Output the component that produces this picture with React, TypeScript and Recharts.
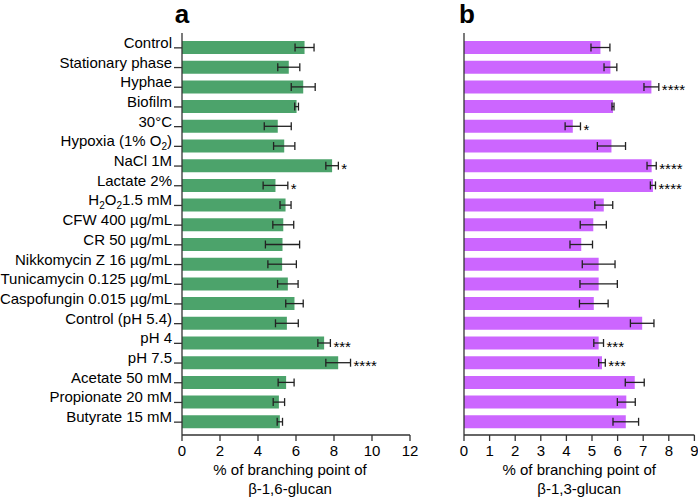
import React from 'react';
import { BarChart, Bar, XAxis, YAxis, ErrorBar, LabelList } from 'recharts';

const categories = [
  'Control', 'Stationary phase', 'Hyphae', 'Biofilm', '30°C', 'Hypoxia (1% O₂)', 'NaCl 1M',
  'Lactate 2%', 'H₂O₂1.5 mM', 'CFW 400 µg/mL', 'CR 50 µg/mL', 'Nikkomycin Z 16 µg/mL',
  'Tunicamycin 0.125 µg/mL', 'Caspofungin 0.015 µg/mL', 'Control (pH 5.4)', 'pH 4', 'pH 7.5',
  'Acetate 50 mM', 'Propionate 20 mM', 'Butyrate 15 mM',
];

const beta16 = [6.45, 5.62, 6.38, 6.03, 5.04, 5.38, 7.9, 4.92, 5.45, 5.33, 5.29, 5.27, 5.57, 5.92, 5.52, 7.48, 8.22, 5.48, 5.1, 5.15];
const beta16Err = [0.5, 0.58, 0.63, 0.1, 0.71, 0.56, 0.33, 0.65, 0.29, 0.55, 0.9, 0.75, 0.54, 0.46, 0.6, 0.33, 0.65, 0.42, 0.3, 0.14];
const beta16Sig = ['', '', '', '', '', '', '*', '*', '', '', '', '', '', '', '', '***', '****', '', '', ''];

const beta13 = [5.33, 5.72, 7.32, 5.82, 4.25, 5.76, 7.33, 7.38, 5.46, 5.05, 4.58, 5.26, 5.26, 5.07, 6.96, 5.26, 5.39, 6.67, 6.34, 6.32];
const beta13Err = [0.37, 0.25, 0.29, 0.04, 0.3, 0.55, 0.18, 0.1, 0.35, 0.51, 0.44, 0.64, 0.73, 0.56, 0.46, 0.19, 0.13, 0.37, 0.35, 0.5];
const beta13Sig = ['', '', '****', '', '*', '', '****', '****', '', '', '', '', '', '', '', '***', '***', '', '', ''];

const ticksA = [0, 2, 4, 6, 8, 10, 12];
const ticksB = [0, 1, 2, 3, 4, 5, 6, 7, 8, 9];

const data = categories.map((name, i) => ({
  name,
  a: beta16[i],
  errA: beta16Err[i],
  b: beta13[i],
  errB: beta13Err[i],
}));

const FONT = 'Liberation Sans, Arial, Helvetica, sans-serif';
const AXIS = '#333';

function renderRich(label: string) {
  const parts: React.ReactNode[] = [];
  let shifted = false;
  let buf = '';
  let key = 0;
  const flush = () => {
    if (buf) {
      parts.push(<tspan key={key++} dy={shifted ? -4 : 0}>{buf}</tspan>);
      shifted = false;
      buf = '';
    }
  };
  for (const ch of label) {
    if (ch === '₂') {
      if (buf) flush();
      parts.push(<tspan key={key++} dy={4} fontSize={10}>2</tspan>);
      shifted = true;
    } else {
      buf += ch;
    }
  }
  flush();
  return parts;
}

const CategoryTick = (props: any) => {
  const { x, y, payload } = props;
  return (
    <text x={x} y={y} dy="0.36em" textAnchor="end" fontSize={15} fill="#000" fontFamily={FONT}>
      {renderRich(String(payload.value))}
    </text>
  );
};

const makeStars = (sig: string[], err: number[]) => (props: any) => {
  const { x, y, width, height, index, value } = props;
  const s = sig[index];
  if (!s) return null;
  const pxPerUnit = Number(width) / Number(value);
  const endX = Number(x) + Number(width) + err[index] * pxPerUnit;
  return (
    <text x={endX + 3} y={Number(y) + Number(height) / 2 + 8.5} fontSize={15} fill="#000" fontFamily={FONT}>
      {s}
    </text>
  );
};

const makeXLabel = (dx: number) => (props: any) => {
  const vb = props.viewBox || {};
  const cx = vb.x + vb.width / 2 + dx;
  return (
    <text x={cx} y={vb.y + 40} textAnchor="middle" fontSize={15} fill="#000" fontFamily={FONT}>
      <tspan x={cx} dy={0}>% of branching point of</tspan>
      <tspan x={cx} dy={19}>{'β-1,6-glucan'}</tspan>
    </text>
  );
};

const makeXLabelB = (props: any) => {
  const vb = props.viewBox || {};
  const cx = vb.x + vb.width / 2;
  return (
    <text x={cx} y={vb.y + 40} textAnchor="middle" fontSize={15} fill="#000" fontFamily={FONT}>
      <tspan x={cx} dy={0}>% of branching point of</tspan>
      <tspan x={cx} dy={19}>{'β-1,3-glucan'}</tspan>
    </text>
  );
};

const tickStyle = { fontSize: 15, fill: '#000', fontFamily: FONT };

export default function App() {
  return (
    <div style={{ position: 'absolute', left: 0, top: 0, width: 698, height: 498, background: '#fff', fontFamily: FONT, overflow: 'hidden' }}>
      <div style={{ position: 'absolute', left: 0, top: 0 }}>
        <BarChart
          width={420}
          height={498}
          data={data}
          layout="vertical"
          margin={{ top: 33, right: 10, bottom: 33, left: 0 }}
        >
          <XAxis
            type="number"
            dataKey="a"
            domain={[0, 12]}
            ticks={ticksA}
            interval={0}
            tickSize={6}
            tickMargin={4}
            height={30}
            stroke={AXIS}
            strokeWidth={1.3}
            tick={tickStyle}
            label={{ content: makeXLabel(-6) } as any}
          />
          <YAxis
            type="category"
            dataKey="name"
            width={182}
            interval={0}
            tickSize={8}
            tickMargin={2}
            stroke={AXIS}
            strokeWidth={1.3}
            padding={{ top: 5, bottom: 3 }}
            tick={<CategoryTick />}
          />
          <Bar dataKey="a" fill="#4ca36b" barSize={13} isAnimationActive={false}>
            <ErrorBar dataKey="errA" direction="x" width={4} stroke="#222" strokeWidth={1.3} />
            <LabelList dataKey="a" content={makeStars(beta16Sig, beta16Err)} />
          </Bar>
        </BarChart>
      </div>
      <div style={{ position: 'absolute', left: 420, top: 0 }}>
        <BarChart
          width={278}
          height={498}
          data={data}
          layout="vertical"
          margin={{ top: 33, right: 3.6, bottom: 33, left: 0 }}
        >
          <XAxis
            type="number"
            dataKey="b"
            domain={[0, 9]}
            ticks={ticksB}
            interval={0}
            tickSize={6}
            tickMargin={4}
            height={30}
            stroke={AXIS}
            strokeWidth={1.3}
            tick={tickStyle}
            label={{ content: makeXLabelB } as any}
          />
          <YAxis
            type="category"
            dataKey="name"
            width={44}
            interval={0}
            tickSize={7}
            tick={false}
            stroke={AXIS}
            strokeWidth={1.3}
            padding={{ top: 5, bottom: 3 }}
          />
          <Bar dataKey="b" fill="#cc66ff" barSize={13} isAnimationActive={false}>
            <ErrorBar dataKey="errB" direction="x" width={4} stroke="#222" strokeWidth={1.3} />
            <LabelList dataKey="b" content={makeStars(beta13Sig, beta13Err)} />
          </Bar>
        </BarChart>
      </div>
      <svg width={698} height={40} style={{ position: 'absolute', left: 0, top: 0, pointerEvents: 'none' }}>
        <text x={182} y={22.5} textAnchor="middle" fontSize={26} fontWeight="bold" fill="#000" fontFamily={FONT}>a</text>
        <text x={467} y={22.5} textAnchor="middle" fontSize={26} fontWeight="bold" fill="#000" fontFamily={FONT}>b</text>
      </svg>
    </div>
  );
}
